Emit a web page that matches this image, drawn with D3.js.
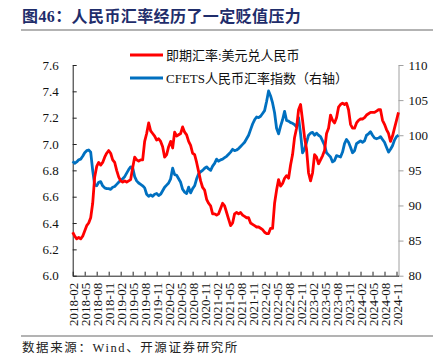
<!DOCTYPE html>
<html><head><meta charset="utf-8">
<script src="https://cdn.jsdelivr.net/npm/d3@7"></script>
<style>body{margin:0;background:#fff} svg{display:block}</style>
</head><body><svg id="c" width="443" height="355"></svg>
<script>
// half-month samples starting 2018-02
const usdcny = [
 6.33,6.30,6.28,6.29,6.28,6.30,6.34,6.38,6.40,6.44,
 6.55,6.75,6.83,6.86,6.84,6.86,6.90,6.93,6.95,6.93,
 6.88,6.86,6.80,6.75,6.72,6.71,6.72,6.71,6.72,6.73,
 6.82,6.90,6.88,6.87,6.88,6.88,7.02,7.08,7.16,7.10,
 7.08,7.06,7.03,7.04,7.02,6.98,6.90,6.92,6.98,7.02,
 6.97,7.09,7.06,7.07,7.08,7.13,7.09,7.07,7.02,6.99,
 6.93,6.92,6.86,6.79,6.72,6.67,6.65,6.58,6.55,6.53,
 6.47,6.47,6.46,6.47,6.51,6.55,6.53,6.48,6.43,6.38,
 6.40,6.47,6.48,6.47,6.48,6.46,6.45,6.44,6.44,6.40,
 6.39,6.38,6.37,6.37,6.36,6.35,6.33,6.32,6.32,6.36,
 6.36,6.55,6.65,6.73,6.68,6.70,6.74,6.76,6.74,6.84,
 6.92,7.05,7.12,7.26,7.30,7.18,7.05,6.96,6.78,6.72,
 6.78,6.92,6.90,6.85,6.88,6.91,6.95,7.08,7.12,7.22,
 7.18,7.16,7.20,7.28,7.30,7.31,7.30,7.31,7.26,7.15,
 7.12,7.12,7.16,7.18,7.19,7.19,7.20,7.22,7.23,7.24,
 7.24,7.24,7.25,7.26,7.26,7.18,7.15,7.11,7.08,7.02,
 7.06,7.12,7.18,7.24];
const cfets = [
 96.3,96.0,96.2,96.5,96.6,97.0,97.5,97.8,97.9,97.6,
 95.0,92.9,92.8,93.3,93.4,92.8,92.5,92.4,92.4,92.3,
 92.6,92.7,93.0,93.3,93.6,93.8,94.1,94.6,95.1,95.5,
 95.4,94.1,93.5,93.2,93.0,92.8,92.5,91.6,91.3,91.5,
 91.3,91.6,91.7,91.4,91.6,92.1,92.6,92.9,93.2,93.8,
 95.3,94.4,94.3,93.8,93.3,92.3,91.9,91.7,92.6,91.8,
 92.4,92.8,93.8,94.5,94.8,95.0,95.3,95.5,95.2,95.0,
 95.6,96.0,96.6,96.3,96.5,96.6,96.8,97.0,97.3,97.6,
 98.0,97.8,97.9,98.1,98.4,98.7,99.0,99.5,100.0,100.8,
 101.6,102.2,102.6,102.5,102.7,103.1,103.5,104.8,106.3,105.6,
 104.6,103.2,101.0,100.2,101.3,102.2,103.4,102.1,102.0,101.8,
 101.7,101.5,101.2,102.5,100.2,97.5,98.0,99.0,100.0,100.3,
 100.4,100.0,100.3,100.0,99.8,99.2,98.6,97.5,97.2,96.9,
 96.2,96.4,97.1,97.0,96.9,97.6,98.8,99.4,99.0,98.3,
 97.5,97.8,98.8,99.0,99.2,99.0,99.2,100.0,100.2,100.5,
 100.0,99.6,99.5,99.6,99.8,99.4,99.0,98.3,97.6,98.0,
 98.5,99.3,99.8,100.0];
const tickLabels = ["2018-02","2018-05","2018-08","2018-11","2019-02","2019-05","2019-08","2019-11",
 "2020-02","2020-05","2020-08","2020-11","2021-02","2021-05","2021-08","2021-11",
 "2022-02","2022-05","2022-08","2022-11","2023-02","2023-05","2023-08","2023-11",
 "2024-02","2024-05","2024-08","2024-11"];
const leftTicks = [6.0,6.2,6.4,6.6,6.8,7.0,7.2,7.4,7.6];
const rightTicks = [80,85,90,95,100,105,110];
const seriesNames = ["即期汇率:美元兑人民币","CFETS人民币汇率指数（右轴）"];
const colors = ["#ff0000","#0070c0"];

const svg = d3.select("#c");
const serif = "'Liberation Serif','Noto Sans CJK SC',serif";
const x0 = 72.7, xEnd = 398.5, yTop = 65, yBot = 275.7;
const x = d3.scaleLinear().domain([0, (usdcny.length-1)/2]).range([x0, xEnd]);
const yL = d3.scaleLinear().domain([6.0,7.6]).range([yBot,yTop]);
const yR = d3.scaleLinear().domain([80,110]).range([yBot,yTop]);

// title
svg.append("text").attr("x",22).attr("y",22).attr("font-family",serif)
  .attr("font-size",16).attr("font-weight","bold").attr("fill","#1f2d6b")
  .attr("letter-spacing",0.4)
  .text("图46：人民币汇率经历了一定贬值压力");
svg.append("line").attr("x1",21).attr("x2",433).attr("y1",30).attr("y2",30)
  .attr("stroke","#9a9a9a").attr("stroke-width",1.5);
svg.append("line").attr("x1",21).attr("x2",433).attr("y1",336).attr("y2",336)
  .attr("stroke","#9a9a9a").attr("stroke-width",1.5);
svg.append("text").attr("x",22).attr("y",352).attr("font-family",serif)
  .attr("font-size",12.5).attr("letter-spacing",1.6).attr("fill","#222")
  .text("数据来源：Wind、开源证券研究所");

// axes
const gL = svg.append("g").attr("transform",`translate(${x0},0)`)
  .call(d3.axisLeft(yL).tickValues(leftTicks).tickFormat(d3.format(".1f")).tickSize(-4).tickSizeOuter(0).tickPadding(14));
const gR = svg.append("g").attr("transform",`translate(${xEnd},0)`)
  .call(d3.axisRight(yR).tickValues(rightTicks).tickSize(5).tickSizeOuter(0).tickPadding(5));
const monthIdx = tickLabels.map((d,i)=>i*3);
const gB = svg.append("g").attr("transform",`translate(0,${yBot})`)
  .call(d3.axisBottom(x).tickValues(monthIdx).tickFormat((d,i)=>tickLabels[i]).tickSize(-4).tickSizeOuter(0));
gB.selectAll("text").attr("transform","rotate(-90)").attr("text-anchor","end")
  .attr("x",-7).attr("y",0).attr("dy","0.35em");
[gL,gR,gB].forEach(g=>{
  g.selectAll("text").attr("font-family",serif).attr("font-size",13).attr("fill","#111");
});
gL.selectAll("path,line").attr("stroke","#222");
gB.selectAll("path,line").attr("stroke","#222");
gR.selectAll("path,line").attr("stroke","#a0a0a0");

// lines
const lineR = d3.line().x((d,i)=>x(i/2)).y(d=>yR(d));
const lineL = d3.line().x((d,i)=>x(i/2)).y(d=>yL(d));
svg.append("path").datum(cfets).attr("d",lineR).attr("fill","none")
  .attr("stroke",colors[1]).attr("stroke-width",2.8).attr("stroke-linejoin","round");
svg.append("path").datum(usdcny).attr("d",lineL).attr("fill","none")
  .attr("stroke",colors[0]).attr("stroke-width",2.8).attr("stroke-linejoin","round");

// legend
seriesNames.forEach((n,i)=>{
  const yy = 55 + i*23;
  svg.append("line").attr("x1",130).attr("x2",163).attr("y1",yy).attr("y2",yy)
    .attr("stroke",colors[i]).attr("stroke-width",2.8);
  svg.append("text").attr("x",166).attr("y",yy+4.5).attr("font-family",serif)
    .attr("font-size",13).attr("fill","#111").text(n);
});
</script></body></html>
